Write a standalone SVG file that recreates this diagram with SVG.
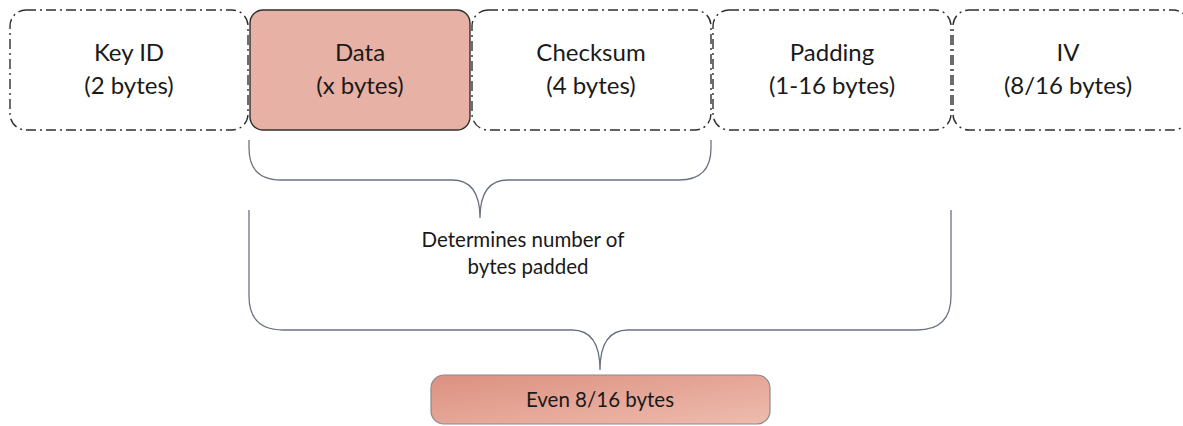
<svg xmlns="http://www.w3.org/2000/svg" width="1183" height="426" viewBox="0 0 1183 426">
  <style>
    .field { fill: #ffffff; stroke: #2f2f2f; stroke-width: 1.4; stroke-dasharray: 10 4 2 4; }
    .data { fill: #e8b1a5; stroke: #2f2f2f; stroke-width: 1.4; }
    .label { font-family: Lato, "Open Sans", "Liberation Sans", sans-serif; font-size: 24px; fill: #1a1a1a; text-anchor: middle; }
    .note { font-family: Lato, "Open Sans", "Liberation Sans", sans-serif; font-size: 20.5px; fill: #1a1a1a; text-anchor: middle; }
    .brace { fill: none; stroke: #6c7282; stroke-width: 1.3; }
  </style>
  <defs>
    <linearGradient id="evenFill" x1="0" y1="0" x2="1" y2="1">
      <stop offset="0" stop-color="#dc9080"/>
      <stop offset="1" stop-color="#eebcae"/>
    </linearGradient>
  </defs>
  <rect width="1183" height="426" fill="#ffffff"/>

  <g id="node-keyid">
    <rect class="field" x="10" y="10" width="238" height="120" rx="16"/>
    <text class="label" x="129" y="61">Key ID</text>
    <text class="label" x="129" y="94">(2 bytes)</text>
  </g>
  <g id="node-data">
    <rect class="data" x="250" y="10" width="220" height="120" rx="13"/>
    <text class="label" x="360" y="61">Data</text>
    <text class="label" x="360" y="94">(x bytes)</text>
  </g>
  <g id="node-checksum">
    <rect class="field" x="472" y="10" width="239" height="120" rx="16"/>
    <text class="label" x="591" y="61">Checksum</text>
    <text class="label" x="591" y="94">(4 bytes)</text>
  </g>
  <g id="node-padding">
    <rect class="field" x="713" y="10" width="238" height="120" rx="16"/>
    <text class="label" x="832" y="61">Padding</text>
    <text class="label" x="832" y="94">(1-16 bytes)</text>
  </g>
  <g id="node-iv">
    <rect class="field" x="953" y="10" width="236" height="120" rx="16"/>
    <text class="label" x="1068" y="61">IV</text>
    <text class="label" x="1068" y="94">(8/16 bytes)</text>
  </g>

  <g id="connectors">
    <path class="brace" d="M249,140 L249,148 Q249,180 281,180 L452,180 Q480,180 480,218 Q480,180 508,180 L679,180 Q711,180 711,148 L711,140"/>
    <path class="brace" d="M249,210 L249,296 Q249,330 283,330 L572,330 Q600,330 600,370 Q600,330 628,330 L917,330 Q951,330 951,296 L951,210"/>
  </g>

  <g id="note-padding">
    <text class="note" x="523" y="247">Determines number of</text>
    <text class="note" x="528" y="274">bytes padded</text>
  </g>

  <g id="node-even">
    <rect x="431" y="375" width="339" height="49" rx="13" fill="url(#evenFill)" stroke="#8a8a90" stroke-width="1.2"/>
    <text class="note" x="600" y="407">Even 8/16 bytes</text>
  </g>
</svg>
